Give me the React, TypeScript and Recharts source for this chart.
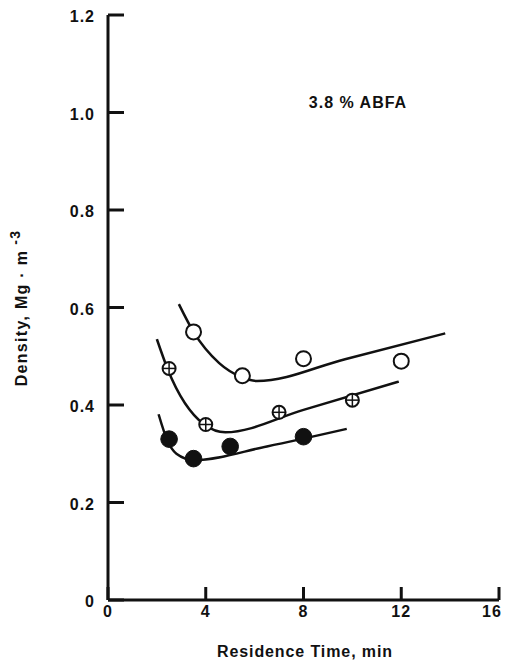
import React from 'react';
import { ComposedChart, Line, Scatter, XAxis, YAxis, Customized } from 'recharts';

const xTicks = [0, 4, 8, 12, 16];
const xTickLabels = ['0', '4', '8', '12', '16'];
const yTicks = [0, 0.2, 0.4, 0.6, 0.8, 1.0, 1.2];
const yTickLabels = ['0', '0.2', '0.4', '0.6', '0.8', '1.0', '1.2'];

const openPoints = [
  { x: 3.5, y: 0.55 },
  { x: 5.5, y: 0.46 },
  { x: 8, y: 0.495 },
  { x: 12, y: 0.49 },
];
const crossPoints = [
  { x: 2.5, y: 0.475 },
  { x: 4, y: 0.36 },
  { x: 7, y: 0.385 },
  { x: 10, y: 0.41 },
];
const filledPoints = [
  { x: 2.5, y: 0.33 },
  { x: 3.5, y: 0.29 },
  { x: 5, y: 0.315 },
  { x: 8, y: 0.335 },
];

const openCurve = [
  { x: 2.9, y: 0.607 },
  { x: 3.5, y: 0.55 },
  { x: 4.55, y: 0.486 },
  { x: 5.43, y: 0.458 },
  { x: 6.1, y: 0.449 },
  { x: 9.7, y: 0.494 },
  { x: 13.8, y: 0.547 },
];
const crossCurve = [
  { x: 2.0, y: 0.535 },
  { x: 2.43, y: 0.475 },
  { x: 3.94, y: 0.36 },
  { x: 4.8, y: 0.344 },
  { x: 8.0, y: 0.39 },
  { x: 11.9, y: 0.448 },
];
const filledCurve = [
  { x: 2.07, y: 0.381 },
  { x: 2.43, y: 0.327 },
  { x: 2.8, y: 0.3 },
  { x: 3.5, y: 0.287 },
  { x: 6.5, y: 0.315 },
  { x: 9.77, y: 0.351 },
];

const INK = '#111';
const FONT = '"Liberation Sans", Arial, Helvetica, sans-serif';

const YTick = (props: any) => {
  const { x, y, index } = props;
  return (
    <text x={x} y={y + 7} textAnchor="end" fontFamily={FONT} fontWeight="bold" fontSize={16} fill={INK} letterSpacing={1}>
      {yTickLabels[index]}
    </text>
  );
};

const XTick = (props: any) => {
  const { x, y, index } = props;
  const last = index === xTickLabels.length - 1;
  return (
    <text x={last ? x - 5 : x} y={y + 17} textAnchor="middle" fontFamily={FONT} fontWeight="bold" fontSize={16} fill={INK} letterSpacing={1}>
      {xTickLabels[index]}
    </text>
  );
};

const OpenDot = (props: any) => (
  <circle cx={props.cx} cy={props.cy} r={7.5} fill="#fff" stroke={INK} strokeWidth={2} />
);
const CrossDot = (props: any) => (
  <g>
    <circle cx={props.cx} cy={props.cy} r={6.5} fill="#fff" stroke={INK} strokeWidth={2} />
    <line x1={props.cx - 6.5} x2={props.cx + 6.5} y1={props.cy} y2={props.cy} stroke={INK} strokeWidth={1.5} />
    <line x1={props.cx} x2={props.cx} y1={props.cy - 6.5} y2={props.cy + 6.5} stroke={INK} strokeWidth={1.5} />
  </g>
);
const FilledDot = (props: any) => (
  <circle cx={props.cx} cy={props.cy} r={8.3} fill={INK} stroke={INK} strokeWidth={1} />
);

const Texts = () => (
  <g>
    <text x={358} y={108} textAnchor="middle" fontFamily={FONT} fontWeight="bold" fontSize={16} fill={INK} letterSpacing={1}>
      3.8 % ABFA
    </text>
    <text x={305} y={657} textAnchor="middle" fontFamily={FONT} fontWeight="bold" fontSize={16} fill={INK} letterSpacing={0.9}>
      Residence Time, min
    </text>
    <text transform="translate(27,308) rotate(-90)" textAnchor="middle" fontFamily={FONT} fontWeight="bold" fontSize={16} fill={INK} letterSpacing={1.3}>
      Density, Mg · m
      <tspan dx={5} dy={-7} fontSize={14}>-3</tspan>
    </text>
  </g>
);

export default function App() {
  return (
    <div style={{ position: 'absolute', left: 0, top: 0, width: 505, height: 661, background: '#fff' }}>
      <ComposedChart width={505} height={661} margin={{ top: 15, right: 6, bottom: 0, left: 0 }}>
        <XAxis
          type="number"
          dataKey="x"
          domain={[0, 16]}
          ticks={xTicks}
          allowDataOverflow
          height={61}
          axisLine={{ stroke: INK, strokeWidth: 3 }}
          tickLine={{ stroke: INK, strokeWidth: 3 }}
          tickSize={-13}
          tickMargin={13}
          tick={<XTick />}
        />
        <YAxis
          type="number"
          dataKey="y"
          domain={[0, 1.2]}
          ticks={yTicks}
          allowDataOverflow
          width={108}
          axisLine={{ stroke: INK, strokeWidth: 3 }}
          tickLine={{ stroke: INK, strokeWidth: 3 }}
          tickSize={-16}
          tickMargin={29}
          tick={<YTick />}
        />
        <Line data={openCurve} dataKey="y" type="monotone" dot={false} stroke={INK} strokeWidth={2.5} isAnimationActive={false} />
        <Line data={crossCurve} dataKey="y" type="monotone" dot={false} stroke={INK} strokeWidth={2.5} isAnimationActive={false} />
        <Line data={filledCurve} dataKey="y" type="monotone" dot={false} stroke={INK} strokeWidth={2.5} isAnimationActive={false} />
        <Scatter data={openPoints} dataKey="y" shape={<OpenDot />} isAnimationActive={false} />
        <Scatter data={crossPoints} dataKey="y" shape={<CrossDot />} isAnimationActive={false} />
        <Scatter data={filledPoints} dataKey="y" shape={<FilledDot />} isAnimationActive={false} />
        <Customized component={Texts} />
      </ComposedChart>
    </div>
  );
}
